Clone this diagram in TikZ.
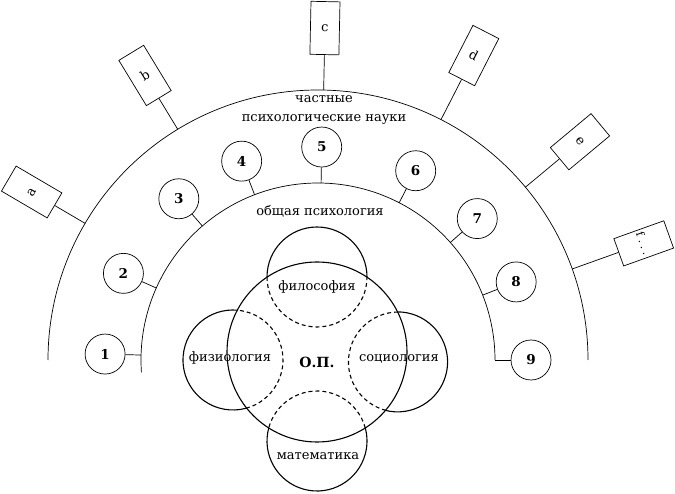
\documentclass[tikz,border=0pt]{standalone}
\usepackage{fontspec}
\setmainfont{DejaVu Serif}
\begin{document}
\begin{tikzpicture}[
            x = 1pt, y = 1pt, % one unit is one pixel of the plan
            line width = 0.7pt,
            every node/.style = {font=\fontsize{13}{19}\selectfont},
            num/.style = {shape=circle, draw=black, minimum size=40pt, inner sep=0pt,
                          font=\fontsize{13.5}{15}\selectfont\bfseries},
            field/.style = {shape=rectangle, draw=black, minimum width=29pt,
                            minimum height=53pt, inner sep=0pt},
            petal/.style = {shape=circle, minimum size=100pt, inner sep=0pt, outer sep=0pt},
            rim/.style = {line width=1.1pt},
            inside/.style = {rim, dash pattern=on 4pt off 3pt}
        ]
\useasboundingbox (0,0) rectangle (675,493);
\coordinate (O) at (318,133);

% the two arcs
\draw ([shift={(180:270)}]O) arc[start angle=180, end angle=0, radius=270];
\draw ([shift={(184:177)}]O) arc[start angle=184, end angle=0, radius=177];

\node[align=center] (spec) at (324,383) {частные\\психологические науки};
\node (gen) at (320,282) {общая психология};

% special branches
\foreach \ang/\rad/\nm/\lab in {149.6/332/a/a, 121.3/333/b/b, 88.8/332/c/c,
        62.9/342/d/d, 39.8/341/e/e, 19.7/346/f/{\fontsize{11}{13}\selectfont f\kern3pt.\kern3pt.\kern3pt.}}{
  \node[field, rotate=\ang-90] (box\nm) at ([shift={(\ang:\rad)}]O) {\lab};
  \coordinate (jb\nm) at ([shift={(\ang:270)}]O);
  \draw (jb\nm) -- (box\nm.south);
}

% general branches
\foreach \ang/\lab in {178.4/1, 156/2, 130.8/3, 111/4, 89/5, 62.7/6, 41.6/7, 21.5/8, 0/9}{
  \node[num] (n\lab) at ([shift={(\ang:213)}]O) {\lab};
  \coordinate (jn\lab) at ([shift={(\ang:177)}]O);
  \draw (jn\lab) -- (n\lab);
}

% core
\node[shape=circle, draw=black, rim, minimum size=180pt, inner sep=0pt] (op) at (317,141) {};
\node[font=\fontsize{14}{16}\selectfont\bfseries] (optext) at (317,131) {О.П.};

\node[petal] (phil) at (317,216) {};
\node[petal] (phys) at (233,133) {};
\node[petal] (soc) at (398,131) {};
\node[petal] (math) at (317,52) {};

\draw[rim] (phil.0) arc[start angle=0, end angle=180, radius=50];
\draw[inside] (phil.180) arc[start angle=180, end angle=360, radius=50];
\draw[rim] (phys.85) arc[start angle=85, end angle=285, radius=50];
\draw[inside] (phys.285) arc[start angle=285, end angle=445, radius=50];
\draw[rim] (soc.255.5) arc[start angle=255.5, end angle=450.5, radius=50];
\draw[inside] (soc.90.5) arc[start angle=90.5, end angle=255.5, radius=50];
\draw[rim] (math.165) arc[start angle=165, end angle=375, radius=50];
\draw[inside] (math.15) arc[start angle=15, end angle=165, radius=50];

\node (philtext) at (317,206) {философия};
\node (phystext) at (230,135) {физиология};
\node (soctext) at (399,134) {социология};
\node (mathtext) at (318,37) {математика};

\end{tikzpicture}
\end{document}
